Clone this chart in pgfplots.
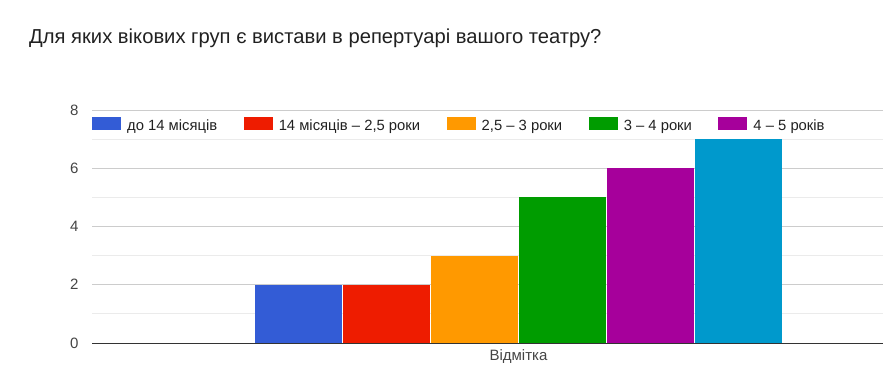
\documentclass[border=0pt]{standalone}
\usepackage{fontspec}
\setmainfont{Liberation Sans}
\usepackage{pgfplots}
\pgfplotsset{compat=1.18}
\definecolor{cBlue}{HTML}{335CD6}
\definecolor{cRed}{HTML}{EE1C00}
\definecolor{cOrange}{HTML}{FF9900}
\definecolor{cGreen}{HTML}{009C00}
\definecolor{cPurple}{HTML}{A6009B}
\definecolor{cCyan}{HTML}{0099CC}
\definecolor{txt}{HTML}{444444}
\begin{document}
\begin{tikzpicture}
\useasboundingbox (0,0) rectangle (883pt,384pt);
\node[anchor=west, inner sep=0pt, font=\fontsize{20.2}{24}\selectfont, text=black!87] at (29pt,346pt) {Для яких вікових груп є вистави в репертуарі вашого театру?};
\begin{axis}[
  at={(92pt,41pt)}, anchor=south west,
  scale only axis, width=791pt, height=233pt,
  xmin=92, xmax=883, ymin=0, ymax=8,
  ybar, bar shift=0pt, bar width=86.5,
  axis line style={draw=none},
  axis x line*=bottom,
  x axis line style={draw=black!80, line width=0.9pt},
  ytick={0,2,4,6,8}, minor ytick={1,3,5,7},
  xtick={518.5}, xticklabels={Відмітка},
  major tick length=0pt, minor tick length=0pt,
  ymajorgrids, yminorgrids,
  major grid style={draw=black!20, line width=0.8pt},
  minor grid style={draw=black!8, line width=0.8pt},
  tick label style={font=\fontsize{15}{17}\selectfont, text=txt},
  /pgf/number format/assume math mode=true,
  yticklabel style={xshift=-10pt},
  xticklabel style={yshift=-3pt},
  legend columns=5,
  legend style={draw=none, fill=none, inner sep=0pt, at={(0,0.935)}, anchor=west,
    font=\fontsize{14.8}{17}\selectfont, text=black!87,
    nodes={inner xsep=0pt, inner ysep=0pt, text height=11pt, text depth=3pt},
    /tikz/every odd column/.append style={column sep=6pt},
    /tikz/every even column/.append style={column sep=26.5pt}},
  legend image code/.code={\fill[#1] (0pt,-4pt) rectangle (29pt,9pt);},
  clip=false,
]
\addplot[fill=cBlue, draw=none] coordinates {(298.5,2)};
\addlegendentry{до 14 місяців}
\addplot[fill=cRed, draw=none] coordinates {(386.5,2)};
\addlegendentry{14 місяців – 2,5 роки}
\addplot[fill=cOrange, draw=none] coordinates {(474.5,3)};
\addlegendentry{2,5 – 3 роки}
\addplot[fill=cGreen, draw=none] coordinates {(562.5,5)};
\addlegendentry{3 – 4 роки}
\addplot[fill=cPurple, draw=none] coordinates {(650.5,6)};
\addlegendentry{4 – 5 років}
\addplot[fill=cCyan, draw=none, forget plot] coordinates {(738.5,7)};
\end{axis}
\end{tikzpicture}
\end{document}
